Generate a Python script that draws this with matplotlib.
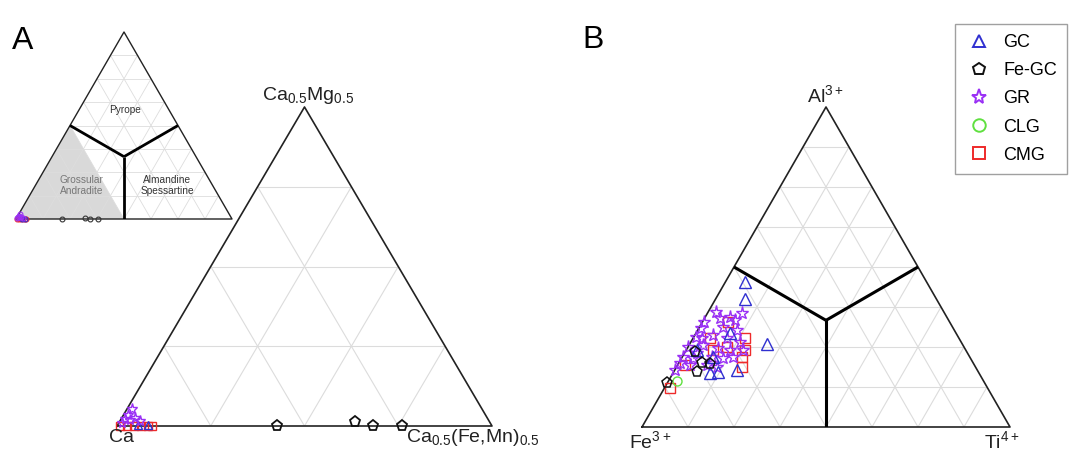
import numpy as np
import matplotlib
matplotlib.use("Agg")
import matplotlib.pyplot as plt
from matplotlib.lines import Line2D

plt.rcParams['font.family'] = ['Liberation Sans', 'DejaVu Sans']
plt.rcParams['mathtext.default'] = 'regular'

# ---------------- data ----------------
# Panel A: fractions of (top = Ca0.5Mg0.5, right = Ca0.5(Fe,Mn)0.5); left = Ca
A_GC_top = [0.003, 0.003]
A_GC_right = [0.081, 0.054]
A_FeGC_top = [0.0, 0.012, 0.0, 0.0]
A_FeGC_right = [0.427, 0.629, 0.683, 0.760]
A_GR_top = [0.053, 0.034, 0.022, 0.019, 0.009, 0.025, 0.016]
A_GR_right = [0.013, 0.012, 0.010, 0.025, 0.009, 0.036, 0.053]
A_CMG_top = [0.0, 0.0, 0.0, 0.0, 0.0, 0.0]
A_CMG_right = [0.008, 0.027, 0.045, 0.064, 0.083, 0.093]

# Panel B: fractions of (top = Al3+, right = Ti4+); left = Fe3+
B_GC_Al = [0.453, 0.400, 0.259, 0.169, 0.172, 0.178, 0.294, 0.241, 0.219]
B_GC_Ti = [0.053, 0.080, 0.210, 0.100, 0.121, 0.169, 0.092, 0.029, 0.084]
B_FeGC_Al = [0.234, 0.200, 0.197, 0.172, 0.138]
B_FeGC_Ti = [0.027, 0.063, 0.087, 0.063, 0.000]
B_GR_Al = [0.356, 0.344, 0.341, 0.328, 0.309, 0.3125, 0.303, 0.2875, 0.281,
           0.278, 0.266, 0.250, 0.256, 0.247, 0.241, 0.219, 0.231, 0.219,
           0.216, 0.200, 0.219, 0.194, 0.194, 0.278, 0.241, 0.1875, 0.359,
           0.334, 0.178, 0.216]
B_GR_Ti = [0.094, 0.067, 0.042, 0.005, 0.005, 0.064, 0.107, 0.049, 0.005,
           0.092, 0.133, 0.000, 0.038, 0.083, 0.119, 0.002, 0.034, 0.081,
           0.112, 0.003, 0.138, 0.080, 0.033, 0.024, 0.154, 0.110, 0.022,
           0.086, 0.001, 0.031]
B_CLG_Al = [0.144]
B_CLG_Ti = [0.023]
B_CMG_Al = [0.328, 0.278, 0.241, 0.219, 0.1875, 0.194, 0.122, 0.250, 0.278, 0.241]
B_CMG_Ti = [0.070, 0.046, 0.160, 0.162, 0.178, 0.020, 0.015, 0.106, 0.141, 0.073]

series_names = ['GC', 'Fe-GC', 'GR', 'CLG', 'CMG']
series_colors = {'GC': '#3030d0', 'Fe-GC': '#111111', 'GR': '#9a30f5',
                 'CLG': '#60e040', 'CMG': '#ee2a2a'}
series_markers = {'GC': '^', 'Fe-GC': 'p', 'GR': '*', 'CLG': 'o', 'CMG': 's'}

H = np.sqrt(3) / 2
W, Hpx = 1069, 459


def tern(top, right):
    top = np.asarray(top, float)
    right = np.asarray(right, float)
    return right + top / 2, top * H


def make_ax(fig, x0, x1, ybot, ytop):
    ax = fig.add_axes([x0 / W, 1 - ybot / Hpx, (x1 - x0) / W, (ybot - ytop) / Hpx])
    ax.set_xlim(0, 1)
    ax.set_ylim(0, H)
    ax.axis('off')
    return ax


def draw_grid(ax, n, color='#dcdcdc', lw=0.8):
    for k in range(1, n):
        f = k / n
        for (t0, r0), (t1, r1) in [((f, 0), (f, 1 - f)),
                                   ((0, f), (1 - f, f)),
                                   ((0, 1 - f), (1 - f, 0))]:
            x, y = tern([t0, t1], [r0, r1])
            ax.plot(x, y, color=color, lw=lw, zorder=1, solid_capstyle='butt')


def draw_frame(ax, lw=1.2):
    x, y = tern([0, 0, 1, 0], [0, 1, 0, 0])
    ax.plot(x, y, color='#222222', lw=lw, zorder=3, clip_on=False)


def draw_fields(ax, lw=2.2):
    for t, r in [(0.5, 0), (0.5, 0.5), (0, 0.5)]:
        x, y = tern([t, 1 / 3], [r, 1 / 3])
        ax.plot(x, y, color='black', lw=lw, zorder=3, solid_capstyle='butt')


def scatter(ax, name, top, right, ms, mew=1.0, z=5):
    x, y = tern(top, right)
    ax.plot(x, y, linestyle='none', marker=series_markers[name], ms=ms,
            mfc='none', mec=series_colors[name], mew=mew, zorder=z, clip_on=False)


fig = plt.figure(figsize=(W / 100, Hpx / 100), dpi=100)

# ---------------- Panel A main ----------------
axA = make_ax(fig, 117, 492, 426, 107)
draw_grid(axA, 4)
draw_frame(axA)
scatter(axA, 'CMG', A_CMG_top, A_CMG_right, 5.5)
scatter(axA, 'GC', A_GC_top, A_GC_right, 6)
scatter(axA, 'GR', A_GR_top, A_GR_right, 8)
scatter(axA, 'Fe-GC', A_FeGC_top, A_FeGC_right, 8, mew=1.3)

fig.text(308 / W, 1 - 95 / Hpx, r'Ca$_{0.5}$Mg$_{0.5}$', ha='center', va='center', fontsize=14, color='#222222')
fig.text(121 / W, 1 - 438 / Hpx, 'Ca', ha='center', va='center', fontsize=14, color='#222222')
fig.text(473 / W, 1 - 438 / Hpx, r'Ca$_{0.5}$(Fe,Mn)$_{0.5}$', ha='center', va='center', fontsize=14, color='#222222')

# ---------------- Panel A inset ----------------
axI = make_ax(fig, 16, 232, 219, 32)
sx, sy = tern([0, 0.5, 0], [0, 0, 0.5])
axI.fill(sx, sy, color='#d9d9d9', zorder=0, lw=0)
draw_grid(axI, 8, color='#dddddd', lw=0.6)
draw_frame(axI, lw=1.0)
draw_fields(axI, lw=2.0)
axI.text(0.505, 0.585, 'Pyrope', transform=axI.transAxes, ha='center', va='center', fontsize=7.3, color='#333333')
axI.text(0.305, 0.18, 'Grossular\nAndradite', transform=axI.transAxes, ha='center', va='center', fontsize=7.3, color='#777777', linespacing=1.1)
axI.text(0.70, 0.18, 'Almandine\nSpessartine', transform=axI.transAxes, ha='center', va='center', fontsize=7.3, color='#333333', linespacing=1.1)
for name, t, r in [('CMG', A_CMG_top, A_CMG_right), ('GC', A_GC_top, A_GC_right),
                   ('GR', A_GR_top, A_GR_right)]:
    x, y = tern(np.asarray(t) * 0.5, np.asarray(r) * 0.5)
    axI.plot(x, y, linestyle='none', marker='o', ms=3.5, mfc='none',
             mec=series_colors[name], mew=0.8, zorder=5, clip_on=False)
x, y = tern(np.asarray(A_FeGC_top) * 0.5, np.asarray(A_FeGC_right) * 0.5)
axI.plot(x, y, linestyle='none', marker='o', ms=3.5, mfc='none', mec='#333333', mew=0.8, zorder=5, clip_on=False)

fig.text(12 / W, 1 - 41 / Hpx, 'A', ha='left', va='center', fontsize=23, color='black')

# ---------------- Panel B ----------------
axB = make_ax(fig, 642, 1010, 427, 107)
draw_grid(axB, 8)
draw_frame(axB)
draw_fields(axB)
scatter(axB, 'CMG', B_CMG_Al, B_CMG_Ti, 6.5)
scatter(axB, 'CLG', B_CLG_Al, B_CLG_Ti, 6.5)
scatter(axB, 'GR', B_GR_Al, B_GR_Ti, 9.5)
scatter(axB, 'GC', B_GC_Al, B_GC_Ti, 8)
scatter(axB, 'Fe-GC', B_FeGC_Al, B_FeGC_Ti, 8, mew=1.1)

fig.text(826 / W, 1 - 95 / Hpx, r'Al$^{3+}$', ha='center', va='center', fontsize=14, color='#222222')
fig.text(650 / W, 1 - 441 / Hpx, r'Fe$^{3+}$', ha='center', va='center', fontsize=14, color='#222222')
fig.text(1002 / W, 1 - 441 / Hpx, r'Ti$^{4+}$', ha='center', va='center', fontsize=14, color='#222222')
fig.text(582 / W, 1 - 40 / Hpx, 'B', ha='left', va='center', fontsize=23, color='black')

# ---------------- Legend ----------------
handles = [Line2D([], [], linestyle='none', marker=series_markers[n], ms=9 if n != 'GR' else 11,
                  mfc='none', mec=series_colors[n], mew=1.4, label=n) for n in series_names]
leg = fig.legend(handles=handles, loc='upper right', bbox_to_anchor=(1067 / W, 1 - 24 / Hpx),
                 fontsize=13, frameon=True, fancybox=False, edgecolor='#888888',
                 handlelength=1.6, handletextpad=0.55, labelspacing=0.62, borderpad=0.55,
                 borderaxespad=0)
leg.get_frame().set_linewidth(1.0)

fig.savefig('out.png', dpi=100)
